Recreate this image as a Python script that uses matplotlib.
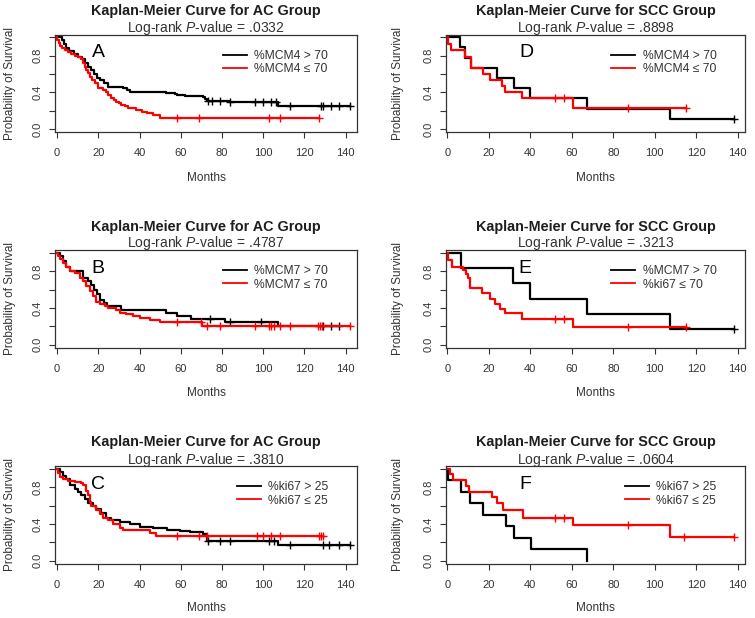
"""
Kaplan-Meier curves, AC and SCC groups (6 panels)"""

import numpy as np
import matplotlib
matplotlib.use('Agg')
import matplotlib.pyplot as plt

plt.rcParams['font.family'] = ['Liberation Sans', 'DejaVu Sans']
plt.rcParams['mathtext.fontset'] = 'custom'
plt.rcParams['mathtext.rm'] = 'Liberation Sans'
plt.rcParams['mathtext.it'] = 'Liberation Sans:italic'

# ---- data (event times in months, survival after each drop) ----
# A: AC group, MCM4
A_HI_T = [2.5, 3.5, 4.5, 6, 8, 10, 12, 13.5, 15, 16.5, 18, 19.5, 21, 23, 24.5, 32, 34, 35.5,
          53, 57, 58, 62, 71, 72, 72.5, 83.5, 107.3]
A_HI_S = [0.97, 0.93, 0.88, 0.85, 0.82, 0.79, 0.76, 0.72, 0.68, 0.64, 0.60, 0.56, 0.53, 0.50,
          0.46, 0.45, 0.43, 0.40, 0.39, 0.38, 0.37, 0.36, 0.35, 0.33, 0.31, 0.29, 0.25]
A_HI_C = [73, 75, 79, 84, 96, 100, 104, 106, 113, 128, 129, 133, 137, 142]
A_LO_T = [0.2, 0.8, 1.5, 2.5, 4, 5.5, 7, 8.5, 10, 11.5, 12.6, 13.4, 14.2, 15, 15.9, 17, 18.3,
          19.9, 22.3, 23.5, 24.8, 26.4, 27.5, 28.8, 30, 31.2, 33, 34.5, 38.5, 41, 43.4, 46.6, 49.8]
A_LO_S = [0.97, 0.94, 0.91, 0.88, 0.86, 0.84, 0.82, 0.80, 0.78, 0.76, 0.72, 0.68, 0.64, 0.61,
          0.57, 0.53, 0.50, 0.45, 0.43, 0.40, 0.37, 0.34, 0.32, 0.30, 0.28, 0.26, 0.25, 0.23,
          0.21, 0.19, 0.17, 0.15, 0.12]
A_LO_C = [58, 69, 103, 108, 127]

# B: AC group, MCM7
B_HI_T = [1.3, 2.9, 4.5, 6.1, 12.6, 15, 16.5, 18, 19.4, 21, 22.7, 24.3, 31, 53, 58, 65, 81.4, 107.3]
B_HI_S = [0.96, 0.91, 0.85, 0.80, 0.73, 0.69, 0.65, 0.60, 0.55, 0.49, 0.45, 0.42, 0.38, 0.35,
          0.31, 0.28, 0.25, 0.20]
B_HI_C = [74, 84, 99, 129, 133, 137]
B_LO_T = [0.5, 1.3, 2.9, 4.5, 6.1, 8.6, 11, 12.6, 14.2, 15.9, 17.5, 19.1, 20.7, 23.1, 24.7,
          28.8, 30.4, 33.6, 36.9, 40.1, 44.9, 49.8, 70.5]
B_LO_S = [0.96, 0.93, 0.89, 0.85, 0.80, 0.78, 0.73, 0.69, 0.64, 0.58, 0.53, 0.47, 0.44, 0.42,
          0.40, 0.38, 0.35, 0.33, 0.31, 0.29, 0.27, 0.25, 0.20]
B_LO_C = [58, 70, 72.5, 79, 96, 103, 104, 105, 108, 113, 126.7, 127.5, 128.3, 142]

# C: AC group, ki67
C_HI_T = [1.3, 2.9, 4.5, 6.1, 8.6, 10.2, 11.8, 13.4, 15, 17.5, 19.1, 21.5, 23.9, 26.4, 30.4,
          35.3, 40.1, 46.6, 53.1, 59.6, 64.4, 70.9, 72.5, 107.3]
C_HI_S = [0.96, 0.92, 0.89, 0.82, 0.78, 0.75, 0.71, 0.67, 0.63, 0.60, 0.56, 0.52, 0.47, 0.44,
          0.42, 0.40, 0.37, 0.36, 0.33, 0.32, 0.31, 0.29, 0.22, 0.17]
C_HI_C = [73, 79, 84, 103, 105, 113, 129, 132, 137, 142]
C_LO_T = [0.5, 1.3, 2.9, 5.3, 8.6, 11.8, 12.6, 14.2, 15, 15.9, 16.7, 19.1, 20.7, 22.3, 24.7,
          27.2, 30.4, 32, 45, 48.2]
C_LO_S = [0.95, 0.91, 0.89, 0.87, 0.86, 0.84, 0.82, 0.76, 0.71, 0.64, 0.60, 0.55, 0.51, 0.47,
          0.44, 0.40, 0.36, 0.33, 0.30, 0.27]
C_LO_C = [58, 69, 72.5, 97, 100, 104, 108, 127, 128, 129]

# D: SCC group, MCM4
D_HI_T = [6.1, 8.5, 11.3, 23.8, 32.2, 39.9, 67.2, 107.4]
D_HI_S = [0.889, 0.778, 0.667, 0.556, 0.444, 0.333, 0.222, 0.111]
D_HI_C = [138]
D_LO_T = [0.5, 2, 8.5, 11.3, 17.4, 20.6, 26.2, 28, 36.2, 60.8]
D_LO_S = [0.93, 0.86, 0.79, 0.66, 0.60, 0.53, 0.47, 0.40, 0.34, 0.225]
D_LO_C = [52, 56.3, 87, 115]

# E: SCC group, MCM7
E_HI_T = [6.4, 31.8, 39.9, 67.2, 107.4]
E_HI_S = [0.833, 0.667, 0.5, 0.333, 0.167]
E_HI_C = [138]
E_LO_T = [0.5, 2.1, 7.7, 9, 9.8, 10.9, 16.6, 20.6, 23, 25.4, 27.8, 35.8, 60.8]
E_LO_S = [0.92, 0.85, 0.81, 0.77, 0.73, 0.62, 0.56, 0.50, 0.44, 0.39, 0.34, 0.28, 0.19]
E_LO_C = [52, 56.3, 87, 115]

# F: SCC group, ki67
F_HI_T = [0.3, 6.4, 10.9, 17, 28.3, 32.2, 40.2, 67.2]
F_HI_S = [0.875, 0.75, 0.625, 0.5, 0.375, 0.25, 0.125, 0.0]
F_HI_C = []
F_LO_T = [1.5, 3, 9, 10.5, 21.4, 23.8, 26.7, 36.3, 60.8, 107.4]
F_LO_S = [0.94, 0.88, 0.81, 0.75, 0.69, 0.625, 0.55, 0.47, 0.39, 0.26]
F_LO_C = [52, 56.3, 87, 114, 138]

LETTERS = ['A', 'B', 'C', 'D', 'E', 'F']
GROUPS = ['AC', 'AC', 'AC', 'SCC', 'SCC', 'SCC']
P_VALUES = ['.0332', '.4787', '.3810', '.8898', '.3213', '.0604']
LEGEND_HI = ['%MCM4 > 70', '%MCM7 > 70', '%ki67 > 25', '%MCM4 > 70', '%MCM7 > 70', '%ki67 > 25']
LEGEND_LO = ['%MCM4 ≤ 70', '%MCM7 ≤ 70', '%ki67 ≤ 25', '%MCM4 ≤ 70', '%ki67 ≤ 70', '%ki67 ≤ 25']
LETTER_X = [20, 20, 20, 38, 37.5, 37.5]

CURVES = [
    (A_HI_T, A_HI_S, A_HI_C, A_LO_T, A_LO_S, A_LO_C),
    (B_HI_T, B_HI_S, B_HI_C, B_LO_T, B_LO_S, B_LO_C),
    (C_HI_T, C_HI_S, C_HI_C, C_LO_T, C_LO_S, C_LO_C),
    (D_HI_T, D_HI_S, D_HI_C, D_LO_T, D_LO_S, D_LO_C),
    (E_HI_T, E_HI_S, E_HI_C, E_LO_T, E_LO_S, E_LO_C),
    (F_HI_T, F_HI_S, F_HI_C, F_LO_T, F_LO_S, F_LO_C),
]

# ---- layout in pixels ----
W, H = 755, 618
COL_LEFT = [55, 446]
COL_RIGHT = [357, 745]
COL_XLIM = [(-1, 145.5), (-0.6, 143.5)]
ROW_TOP = [34.5, 250, 466]
ROW_BOTTOM = [131.8, 347.5, 563.5]
TITLE_Y = [11, 226.7, 441.7]
SUB_Y = [28, 243.3, 460]
XLABEL_Y = [178, 393, 608]
YLABEL_X = [10, 398]
TXT = '#1e1e1e'


def km_path(times, surv, cens):
    t = [0.0] + list(times)
    s = [1.0] + list(surv)
    end = max(cens) if len(cens) else t[-1]
    if end > t[-1]:
        t.append(end)
        s.append(s[-1])
    t, s = np.array(t), np.array(s)
    idx = np.searchsorted(t, cens, side='right') - 1
    return t, s, np.array(cens), s[idx] if len(cens) else np.array([])


fig = plt.figure(figsize=(W / 100, H / 100), dpi=100)

for i in range(6):
    col, row = i // 3, i % 3
    l, r = COL_LEFT[col], COL_RIGHT[col]
    top, bot = ROW_TOP[row], ROW_BOTTOM[row]
    ax = fig.add_axes([l / W, 1 - bot / H, (r - l) / W, (bot - top) / H])

    hi_t, hi_s, hi_c, lo_t, lo_s, lo_c = CURVES[i]
    handles = []
    for times, surv, cens, color in [(hi_t, hi_s, hi_c, 'black'), (lo_t, lo_s, lo_c, '#ff0000')]:
        t, s, ct, cs = km_path(times, surv, cens)
        ln, = ax.step(t, s, where='post', color=color, lw=1.6)
        ax.plot(ct, cs, ls='none', marker='+', ms=6, mew=1.0, color=color)
        handles.append(ln)

    ax.set_xlim(*COL_XLIM[col])
    ax.set_ylim(-0.03, 1.03)
    ax.set_xticks(np.arange(0, 141, 20))
    ax.set_yticks([0, 0.2, 0.4, 0.6, 0.8, 1.0])
    ax.set_yticklabels(['0.0', '', '0.4', '', '0.8', ''])
    ax.tick_params(axis='y', labelrotation=90, length=4, width=0.8, pad=5,
                   labelsize=8, colors='#333333')
    ax.tick_params(axis='x', length=4, width=0.8, pad=8, labelsize=8, colors='#333333')
    for yl in ax.get_yticklabels():
        yl.set_va('center')
    for sp in ax.spines.values():
        sp.set_linewidth(0.9)
        sp.set_color('#333333')

    leg = ax.legend(handles, [LEGEND_HI[i], LEGEND_LO[i]], loc='center right',
                    bbox_to_anchor=(0.905, 0.712), frameon=False, fontsize=8.7,
                    handlelength=2.0, handletextpad=0.6, labelspacing=0.1,
                    borderpad=0, borderaxespad=0)
    for txt in leg.get_texts():
        txt.set_color('#333333')
    for lh in leg.get_lines():
        lh.set_linewidth(1.3)

    ax.text(LETTER_X[i], 0.83, LETTERS[i], fontsize=14, ha='center', va='center', color='black')

    cx = (l + r) / 2 / W
    fig.text(cx, 1 - TITLE_Y[row] / H, 'Kaplan-Meier Curve for %s Group' % GROUPS[i],
             ha='center', va='center', fontsize=10.4, fontweight='bold', color=TXT)
    fig.text(cx, 1 - SUB_Y[row] / H, 'Log-rank $\\mathit{P}$-value = %s' % P_VALUES[i],
             ha='center', va='center', fontsize=10, color='#333333')
    fig.text(cx, 1 - XLABEL_Y[row] / H, 'Months', ha='center', va='center',
             fontsize=8.5, color='#333333')
    fig.text(YLABEL_X[col] / W, 1 - (top + bot) / 2 / H, 'Probability of Survival',
             rotation=90, ha='center', va='center', fontsize=8.5, color='#333333')

fig.savefig('out.png', dpi=100, facecolor='white')
